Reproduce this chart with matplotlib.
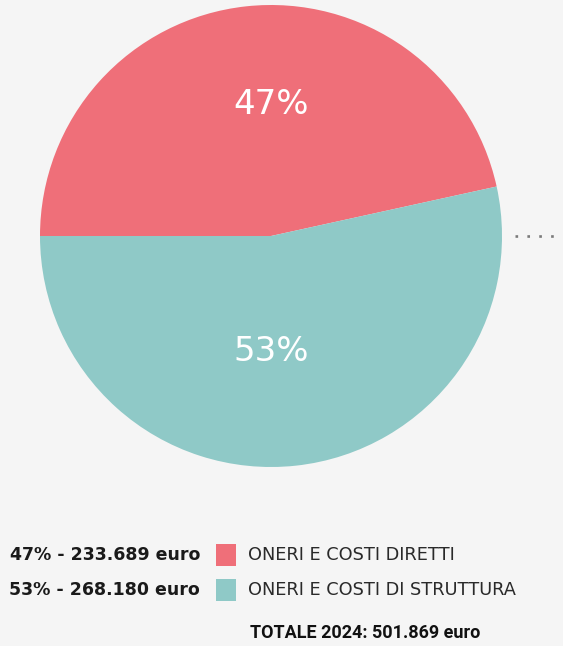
import matplotlib
matplotlib.use("Agg")
import matplotlib.pyplot as plt
from matplotlib.patches import Rectangle
from matplotlib.lines import Line2D

categories = ["ONERI E COSTI DIRETTI", "ONERI E COSTI DI STRUTTURA"]
values = [233689, 268180]
pct_labels = ["47%", "53%"]
amount_labels = ["47% - 233.689 euro", "53% - 268.180 euro"]
total_label = "TOTALE 2024: 501.869 euro"
colors = ["#EF6F79", "#8FC9C7"]

W, H = 563, 646
bg = "#F5F5F5"
fig = plt.figure(figsize=(W / 100, H / 100), dpi=100, facecolor=bg)

def fx(px):
    return px / W

def fy(py):
    return 1 - py / H

# pie axes: center (271,236), radius 231
ax = fig.add_axes([fx(40), fy(467), 462 / W, 462 / H])
ax.set_facecolor(bg)
ax.pie(values, colors=colors, startangle=180, counterclock=False,
       radius=1.0, wedgeprops=dict(linewidth=0))
ax.set_xlim(-1, 1)
ax.set_ylim(-1, 1)
ax.set_aspect("equal")
ax.axis("off")

label_pos = [(0, 0.571), (0, -0.502)]
for (x, y), t in zip(label_pos, pct_labels):
    ax.text(x, y, t, ha="center", va="center", color="white",
            fontsize=24.5, family="DejaVu Sans", fontweight="normal")

# dotted leader line on the right
fig.add_artist(Line2D([fx(515), fx(563)], [fy(236), fy(236)],
                      transform=fig.transFigure, color="#7a7a7a",
                      linestyle=(0, (1, 3.5)), linewidth=1.9))

# legend
rows_y = [555, 590]
for yy, amt, cat, col in zip(rows_y, amount_labels, categories, colors):
    fig.text(fx(200), fy(yy), amt, ha="right", va="center",
             fontsize=12.5, family="DejaVu Sans", fontweight="bold",
             color="#1a1a1a")
    fig.add_artist(Rectangle((fx(216), fy(yy + 11)), 20 / W, 22 / H,
                             transform=fig.transFigure, facecolor=col,
                             edgecolor="none"))
    fig.text(fx(248), fy(yy), cat, ha="left", va="center",
             fontsize=12.8, family="DejaVu Sans", fontweight="normal",
             color="#2a2a2a")

fig.text(fx(250), fy(633), total_label, ha="left", va="center",
         fontsize=13, family="Roboto", fontweight="bold",
         color="#111111")

fig.savefig("out.png", dpi=100, facecolor=bg)
